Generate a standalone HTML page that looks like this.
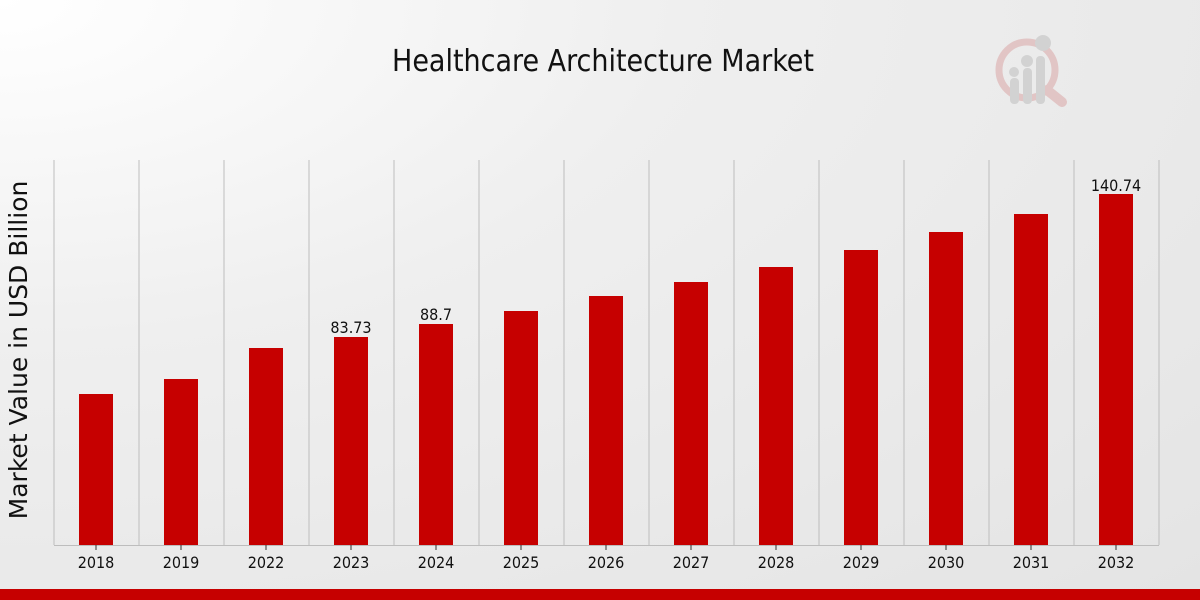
<!DOCTYPE html>
<html><head><meta charset="utf-8"><style>
html,body{margin:0;padding:0;width:1200px;height:600px;overflow:hidden}
body{background:radial-gradient(ellipse at 0% 0%,#ffffff 0%,#efefef 40%,#e4e4e4 100%)}
text{font-family:"DejaVu Sans Condensed","DejaVu Sans","Liberation Sans",sans-serif;font-stretch:condensed}
text.n{font-family:"DejaVu Sans","Liberation Sans",sans-serif;font-stretch:normal}
</style></head><body>
<svg width="1200" height="600" xmlns="http://www.w3.org/2000/svg">
<text x="603" y="71" font-size="30" text-anchor="middle" fill="#111">Healthcare Architecture Market</text>
<g opacity="0.5">
<circle cx="1027" cy="70" r="28" fill="none" stroke="#d9a0a0" stroke-width="7"/>
<line x1="1047" y1="90" x2="1062" y2="102" stroke="#d9a0a0" stroke-width="10" stroke-linecap="round"/>
<rect x="1010" y="78" width="9" height="26" rx="4" fill="#bbb"/>
<rect x="1023" y="68" width="9" height="36" rx="4" fill="#bbb"/>
<rect x="1036" y="56" width="9" height="48" rx="4" fill="#bbb"/>
<circle cx="1014" cy="72" r="5" fill="#bbb"/><circle cx="1027" cy="61" r="6" fill="#bbb"/><circle cx="1043" cy="43" r="8" fill="#bbb"/>
</g>
<text class="n" transform="translate(27,350) rotate(-90)" font-size="25" text-anchor="middle" fill="#111">Market Value in USD Billion</text>
<g stroke="#bdbdbd" stroke-width="1">
<line x1="54" y1="160" x2="54" y2="545"/><line x1="139" y1="160" x2="139" y2="545"/><line x1="224" y1="160" x2="224" y2="545"/><line x1="309" y1="160" x2="309" y2="545"/><line x1="394" y1="160" x2="394" y2="545"/><line x1="479" y1="160" x2="479" y2="545"/><line x1="564" y1="160" x2="564" y2="545"/><line x1="649" y1="160" x2="649" y2="545"/><line x1="734" y1="160" x2="734" y2="545"/><line x1="819" y1="160" x2="819" y2="545"/><line x1="904" y1="160" x2="904" y2="545"/><line x1="989" y1="160" x2="989" y2="545"/><line x1="1074" y1="160" x2="1074" y2="545"/><line x1="1159" y1="160" x2="1159" y2="545"/>
<line x1="54" y1="545.5" x2="1159" y2="545.5"/>
</g>
<g fill="#c60000">
<rect x="79" y="394" width="34" height="151"/><rect x="164" y="379" width="34" height="166"/><rect x="249" y="348" width="34" height="197"/><rect x="334" y="337" width="34" height="208"/><rect x="419" y="324" width="34" height="221"/><rect x="504" y="311" width="34" height="234"/><rect x="589" y="296" width="34" height="249"/><rect x="674" y="282" width="34" height="263"/><rect x="759" y="267" width="34" height="278"/><rect x="844" y="250" width="34" height="295"/><rect x="929" y="232" width="34" height="313"/><rect x="1014" y="214" width="34" height="331"/><rect x="1099" y="194" width="34" height="351"/>
</g>
<g stroke="#333" stroke-width="1">
<line x1="96" y1="545" x2="96" y2="550"/><line x1="181" y1="545" x2="181" y2="550"/><line x1="266" y1="545" x2="266" y2="550"/><line x1="351" y1="545" x2="351" y2="550"/><line x1="436" y1="545" x2="436" y2="550"/><line x1="521" y1="545" x2="521" y2="550"/><line x1="606" y1="545" x2="606" y2="550"/><line x1="691" y1="545" x2="691" y2="550"/><line x1="776" y1="545" x2="776" y2="550"/><line x1="861" y1="545" x2="861" y2="550"/><line x1="946" y1="545" x2="946" y2="550"/><line x1="1031" y1="545" x2="1031" y2="550"/><line x1="1116" y1="545" x2="1116" y2="550"/>
</g>
<g font-size="16" text-anchor="middle" fill="#111">
<text x="96" y="568">2018</text><text x="181" y="568">2019</text><text x="266" y="568">2022</text><text x="351" y="568">2023</text><text x="436" y="568">2024</text><text x="521" y="568">2025</text><text x="606" y="568">2026</text><text x="691" y="568">2027</text><text x="776" y="568">2028</text><text x="861" y="568">2029</text><text x="946" y="568">2030</text><text x="1031" y="568">2031</text><text x="1116" y="568">2032</text>
<text x="351" y="333">83.73</text><text x="436" y="320">88.7</text><text x="1116" y="191">140.74</text>
</g>
<rect x="0" y="589" width="1200" height="11" fill="#c60000"/>
</svg>
</body></html>
